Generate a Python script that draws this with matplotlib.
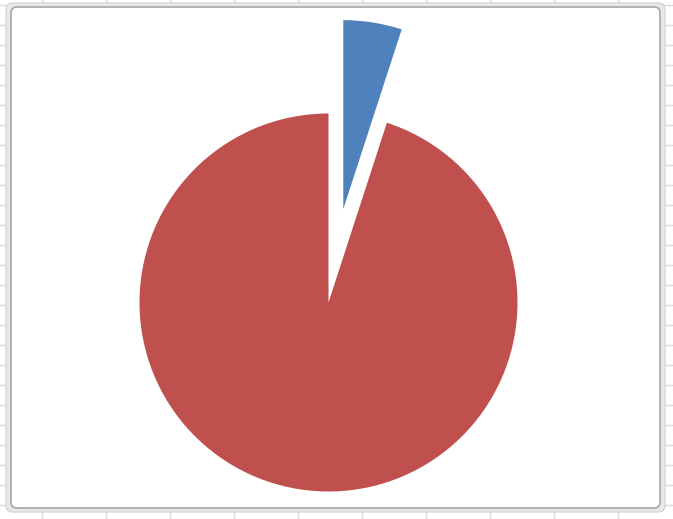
import matplotlib.pyplot as plt
from matplotlib.patches import FancyBboxPatch
import numpy as np

# dados
categorias = ["A", "B"]
valores = [5, 95]
cores = ["#4f81bd", "#c0504d"]
explode = [0.5, 0.0]

W, H = 673, 519
fig = plt.figure(figsize=(W / 100, H / 100), dpi=100)

# fundo da planilha (grade das células)
bg = fig.add_axes([0, 0, 1, 1])
bg.set_xlim(0, W)
bg.set_ylim(H, 0)
bg.axis("off")
for x in np.arange(42, W, 64):
    bg.axvline(x, color="#dadada", lw=1, zorder=1)
for y in np.arange(5, H, 20):
    bg.axhline(y, color="#dadada", lw=1, zorder=1)

# moldura do gráfico
bg.add_patch(FancyBboxPatch((6, 3), 659, 509, boxstyle="round,pad=0,rounding_size=7",
                            fc="#e8e8e8", ec="#d6d6d6", lw=1, zorder=3))
bg.add_patch(FancyBboxPatch((11, 7), 649, 501, boxstyle="round,pad=0,rounding_size=6",
                            fc="white", ec="#a6a6a6", lw=1.2, zorder=4))

# pizza
r = 189
cx, cy = 328.5, 302.5
ax = fig.add_axes([0, 0, 1, 1])
ax.axis("off")
ax.pie(valores, colors=cores, explode=explode, startangle=90, counterclock=False,
       radius=1, center=(0, 0), frame=False)
ax.set_xlim(-cx / r, (W - cx) / r)
ax.set_ylim(-(H - cy) / r, cy / r)
ax.set_aspect("auto")

fig.savefig("out.png", dpi=100)
